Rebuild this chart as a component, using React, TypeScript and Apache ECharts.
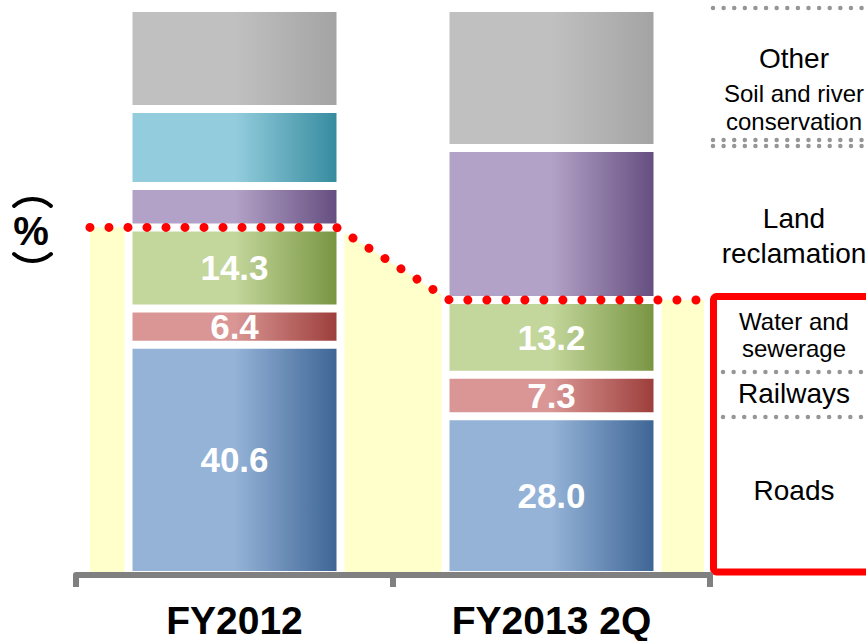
import React, { useEffect, useRef } from 'react';
import * as echarts from 'echarts';

// Public works order mix (%), stacked from the bottom up
const categories = ['FY2012', 'FY2013 2Q'];
const roads = [40.6, 28.0];
const railways = [6.4, 7.3];
const waterSewerage = [14.3, 13.2];
const landReclamation = [7.3, 26.8];
const soilRiver = [13.6, 0];
const other = [17.8, 24.7];

// Right-hand key texts
const keyBig = [
  { text: 'Other', y: 58 },
  { text: 'Land', y: 218 },
  { text: 'reclamation', y: 253 },
  { text: 'Railways', y: 393 },
  { text: 'Roads', y: 490 },
];
const keySmall = [
  { text: 'Soil and river', y: 93 },
  { text: 'conservation', y: 121 },
  { text: 'Water and', y: 321 },
  { text: 'sewerage', y: 348 },
];

const FONT = "'Liberation Sans', Arial, Helvetica, sans-serif";

// Cumulative height of roads + railways + water and sewerage
const coreTop = categories.map((_, i) => roads[i] + railways[i] + waterSewerage[i]);

function shade(light: string, dark: string) {
  return new echarts.graphic.LinearGradient(0, 0, 1, 0, [
    { offset: 0, color: light },
    { offset: 0.5, color: light },
    { offset: 1, color: dark },
  ]);
}

function segment(name: string, data: number[], light: string, dark: string, showLabel: boolean) {
  return {
    name,
    type: 'bar',
    stack: 'mix',
    data,
    barWidth: 212,
    z: 2,
    silent: true,
    itemStyle: { color: shade(light, dark), borderColor: '#ffffff', borderWidth: 4 },
    label: {
      show: showLabel,
      position: 'inside',
      color: '#ffffff',
      fontSize: 35,
      fontWeight: 'bold',
      fontFamily: FONT,
      formatter: (p: any) => Number(p.value).toFixed(1),
    },
  };
}

function corePoints(api: any) {
  const p0 = api.coord([0, coreTop[0]]);
  const p1 = api.coord([1, coreTop[1]]);
  const base = api.coord([0, 0])[1];
  const bw = api.size([1, 0])[0];
  return {
    p0,
    p1,
    base,
    bw,
    left: p0[0] - 0.456 * bw,
    right: p1[0] + 0.481 * bw,
    kneeL: p0[0] + 0.322 * bw,
    kneeR: p1[0] - 0.322 * bw,
  };
}

function dotted(y: number, x1: number) {
  return {
    type: 'line',
    silent: true,
    shape: { x1, y1: y, x2: 872, y2: y },
    style: { stroke: '#969696', lineWidth: 4.5, lineDash: [0.01, 10.6], lineCap: 'round' },
  };
}

function keyText(text: string, y: number, size: number) {
  return {
    type: 'text',
    x: 794,
    y,
    silent: true,
    style: {
      text,
      fill: '#000000',
      fontSize: size,
      fontFamily: FONT,
      align: 'center',
      textAlign: 'center',
      verticalAlign: 'middle',
      textVerticalAlign: 'middle',
    },
  };
}

function bracketArc(cy: number, mid: number) {
  return {
    type: 'arc',
    silent: true,
    shape: { cx: 32.5, cy, r: 28, startAngle: mid - 0.72, endAngle: mid + 0.72, clockwise: true },
    style: { stroke: '#000000', lineWidth: 4, fill: null, lineCap: 'round' },
  };
}

export default function App() {
  const ref = useRef<HTMLDivElement>(null);

  useEffect(() => {
    if (!ref.current) return;
    const chart = echarts.init(ref.current, undefined, { renderer: 'svg' });

    const option: any = {
      animation: false,
      backgroundColor: '#ffffff',
      grid: { left: 76, right: 156, top: 8, bottom: 66 },
      xAxis: {
        type: 'category',
        data: categories,
        z: 10,
        axisLine: { show: true, lineStyle: { color: '#808080', width: 6 } },
        axisTick: { show: true, length: 12, lineStyle: { color: '#808080', width: 6 } },
        axisLabel: {
          margin: 26,
          color: '#000000',
          fontSize: 39,
          fontWeight: 'bold',
          fontFamily: FONT,
        },
      },
      yAxis: { type: 'value', min: 0, max: 100, show: false },
      series: [
        {
          // pale band under the dotted line, kept clear of the bars
          type: 'custom',
          z: 1,
          silent: true,
          data: coreTop.map((v, i) => [i, v]),
          encode: { x: 0, y: 1 },
          renderItem: (params: any, api: any) => {
            if (params.dataIndex !== 0) return { type: 'group', children: [] };
            const c = corePoints(api);
            const topAt = (x: number) =>
              x <= c.kneeL
                ? c.p0[1]
                : x >= c.kneeR
                ? c.p1[1]
                : c.p0[1] + ((c.p1[1] - c.p0[1]) * (x - c.kneeL)) / (c.kneeR - c.kneeL);
            const half = 0.347 * c.bw;
            const spans = [
              [c.left, c.p0[0] - half],
              [c.p0[0] + half, c.p1[0] - half],
              [c.p1[0] + half, c.right],
            ];
            const children = spans.map(([a, b]) => {
              const pts: number[][] = [[a, c.base], [a, topAt(a)]];
              [c.kneeL, c.kneeR].forEach((k) => {
                if (k > a && k < b) pts.push([k, topAt(k)]);
              });
              pts.push([b, topAt(b)], [b, c.base]);
              return { type: 'polygon', shape: { points: pts }, style: { fill: '#FFFFCC' } };
            });
            return { type: 'group', children };
          },
        },
        segment('Roads', roads, '#95B3D7', '#3C6494', true),
        segment('Railways', railways, '#D99694', '#9C3D3A', true),
        segment('Water and sewerage', waterSewerage, '#C3D69B', '#779441', true),
        segment('Land reclamation', landReclamation, '#B3A2C7', '#644D7F', false),
        segment('Soil and river conservation', soilRiver, '#93CDDD', '#358A9E', false),
        segment('Other', other, '#C0C0C0', '#A3A3A3', false),
        {
          type: 'custom',
          z: 5,
          silent: true,
          data: coreTop.map((v, i) => [i, v]),
          encode: { x: 0, y: 1 },
          renderItem: (params: any, api: any) => {
            if (params.dataIndex !== 0) return { type: 'group', children: [] };
            const c = corePoints(api);
            return {
              type: 'polyline',
              shape: {
                points: [
                  [c.left, c.p0[1]],
                  [c.kneeL, c.p0[1]],
                  [c.kneeR, c.p1[1]],
                  [c.right, c.p1[1]],
                ],
              },
              style: {
                fill: null,
                stroke: '#FF0000',
                lineWidth: 9,
                lineDash: [0.01, 19],
                lineCap: 'round',
              },
            };
          },
        },
      ],
      graphic: [
        // unit mark on the left: "%" between two curved brackets
        bracketArc(227, -Math.PI / 2),
        {
          type: 'text',
          x: 31,
          y: 231,
          silent: true,
          style: {
            text: '%',
            fill: '#000000',
            fontSize: 40,
            fontWeight: 'bold',
            fontFamily: FONT,
            align: 'center',
            textAlign: 'center',
            verticalAlign: 'middle',
            textVerticalAlign: 'middle',
          },
        },
        bracketArc(233, Math.PI / 2),
        // key separators
        dotted(8, 713),
        dotted(140, 713),
        dotted(146, 713),
        dotted(372, 723),
        dotted(417, 723),
        // highlight box around the core categories
        {
          type: 'rect',
          silent: true,
          shape: { x: 713.5, y: 296.5, width: 220, height: 275.5, r: 3 },
          style: { fill: 'none', stroke: '#FF0000', lineWidth: 7 },
        },
        ...keyBig.map((k) => keyText(k.text, k.y, 28)),
        ...keySmall.map((k) => keyText(k.text, k.y, 24)),
      ],
    };

    chart.setOption(option);
    return () => chart.dispose();
  }, []);

  return (
    <div
      ref={ref}
      style={{ position: 'fixed', left: 0, top: 0, width: 866, height: 641, background: '#ffffff' }}
    />
  );
}
